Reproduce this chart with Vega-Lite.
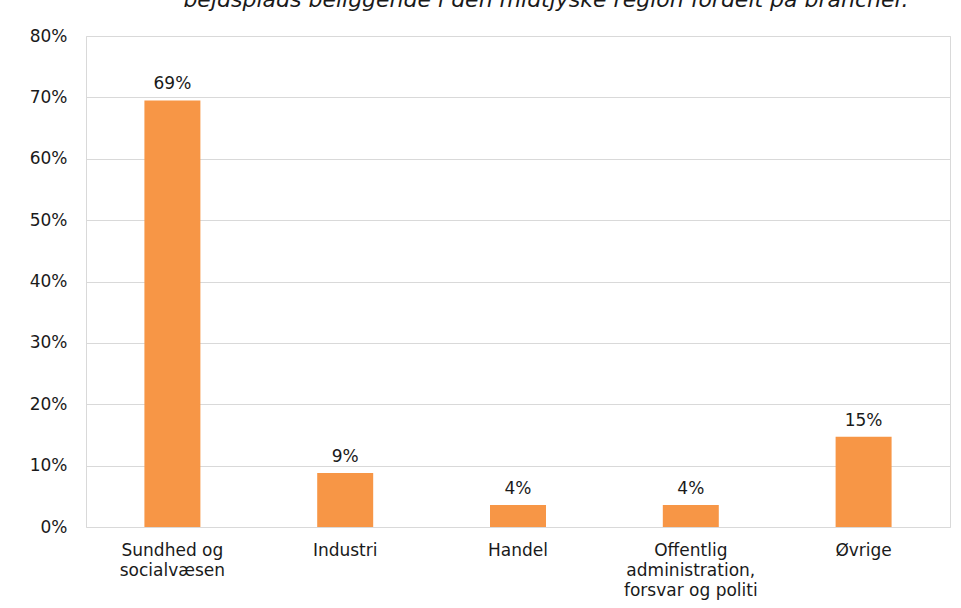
{
  "$schema": "https://vega.github.io/schema/vega-lite/v6.json",
  "width": 864,
  "height": 491,
  "autosize": {"type": "none"},
  "padding": {"left": 86, "top": 36, "right": 11, "bottom": 81},
  "background": "white",
  "title": {
    "text": "bejdsplads beliggende i den midtjyske region fordelt på brancher.",
    "font": "DejaVu Sans",
    "fontSize": 22,
    "fontStyle": "italic",
    "fontWeight": "normal",
    "color": "#1a1a1a",
    "anchor": "middle",
    "baseline": "alphabetic",
    "offset": 0,
    "dx": 28,
    "dy": 2
  },
  "data": {
    "values": [
      {"branche": "Sundhed og socialvæsen", "andel": 0.695, "tekst": "69%"},
      {"branche": "Industri", "andel": 0.088, "tekst": "9%"},
      {"branche": "Handel", "andel": 0.036, "tekst": "4%"},
      {"branche": "Offentlig administration, forsvar og politi", "andel": 0.036, "tekst": "4%"},
      {"branche": "Øvrige", "andel": 0.147, "tekst": "15%"}
    ]
  },
  "config": {
    "view": {"stroke": "#d9d9d9", "strokeWidth": 1},
    "font": "DejaVu Sans"
  },
  "encoding": {
    "x": {
      "field": "branche",
      "type": "nominal",
      "sort": null,
      "scale": {"paddingInner": 0.676, "paddingOuter": 0.338},
      "axis": {
        "title": null,
        "labelAngle": 0,
        "domain": false,
        "ticks": false,
        "labelFont": "DejaVu Sans",
        "labelFontSize": 17,
        "labelColor": "#1a1a1a",
        "labelPadding": 15,
        "labelLineHeight": 20,
        "labelBaseline": "top",
        "labelOverlap": false,
        "labelExpr": "datum.value == 'Sundhed og socialvæsen' ? ['Sundhed og', 'socialvæsen'] : datum.value == 'Offentlig administration, forsvar og politi' ? ['Offentlig', 'administration,', 'forsvar og politi'] : datum.value"
      }
    },
    "y": {
      "field": "andel",
      "type": "quantitative",
      "scale": {"domain": [0, 0.8]},
      "axis": {
        "title": null,
        "format": ".0%",
        "values": [0, 0.1, 0.2, 0.3, 0.4, 0.5, 0.6, 0.7, 0.8],
        "labelOverlap": false,
        "domain": false,
        "ticks": false,
        "grid": true,
        "gridColor": "#d9d9d9",
        "gridWidth": 1,
        "labelFont": "DejaVu Sans",
        "labelFontSize": 17,
        "labelColor": "#1a1a1a",
        "labelPadding": 19
      }
    }
  },
  "layer": [
    {"mark": {"type": "bar", "color": "#f79646"}},
    {
      "mark": {"type": "text", "baseline": "alphabetic", "dy": -11, "fontSize": 17, "color": "#1a1a1a", "font": "DejaVu Sans"},
      "encoding": {"text": {"field": "tekst"}}
    }
  ]
}
